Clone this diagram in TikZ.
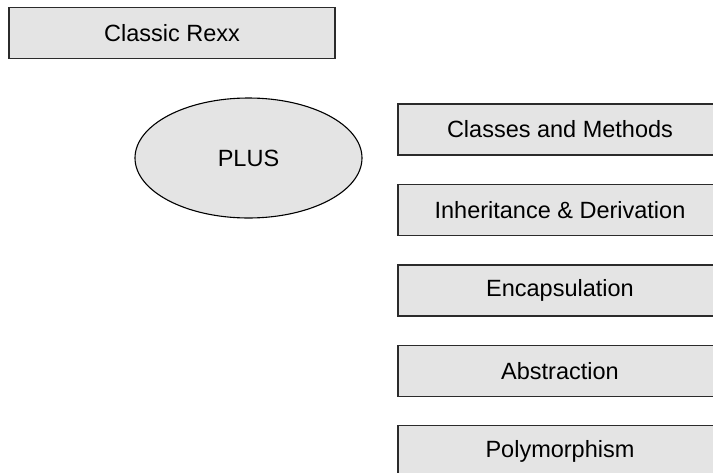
\documentclass[tikz,border=0pt]{standalone}
\usepackage{fontspec}
\setmainfont{Liberation Sans}
\usetikzlibrary{positioning,shapes.geometric}
\definecolor{boxfill}{HTML}{E4E4E4}
\definecolor{boxline}{HTML}{2B2B2B}

\begin{document}
\begin{tikzpicture}[
  x=1pt,y=-1pt,
  font=\fontsize{23.5}{28}\selectfont,
  box/.style={draw=boxline,fill=boxfill,line width=1.4pt,minimum width=324pt,minimum height=51pt,inner sep=0pt},
  oval/.style={ellipse,draw=black,fill=boxfill,line width=1.1pt,minimum width=227pt,minimum height=120pt,inner sep=0pt},
  node distance=28pt
]
\useasboundingbox (0,0) rectangle (713,472);
\clip (0,0) rectangle (713,472);

\node[box,minimum width=326pt] (rexx) at (172,33) {Classic Rexx};
\node[oval] (plus) at (248.5,158) {PLUS};

\node[box] (classes) at (560,129.5) {Classes and Methods};
\node[box,below=of classes] (inherit) {Inheritance \& Derivation};
\node[box,below=of inherit] (encap) {Encapsulation};
\node[box,below=of encap] (abstr) {Abstraction};
\node[box,below=of abstr] (poly) {Polymorphism};
\end{tikzpicture}
\end{document}
